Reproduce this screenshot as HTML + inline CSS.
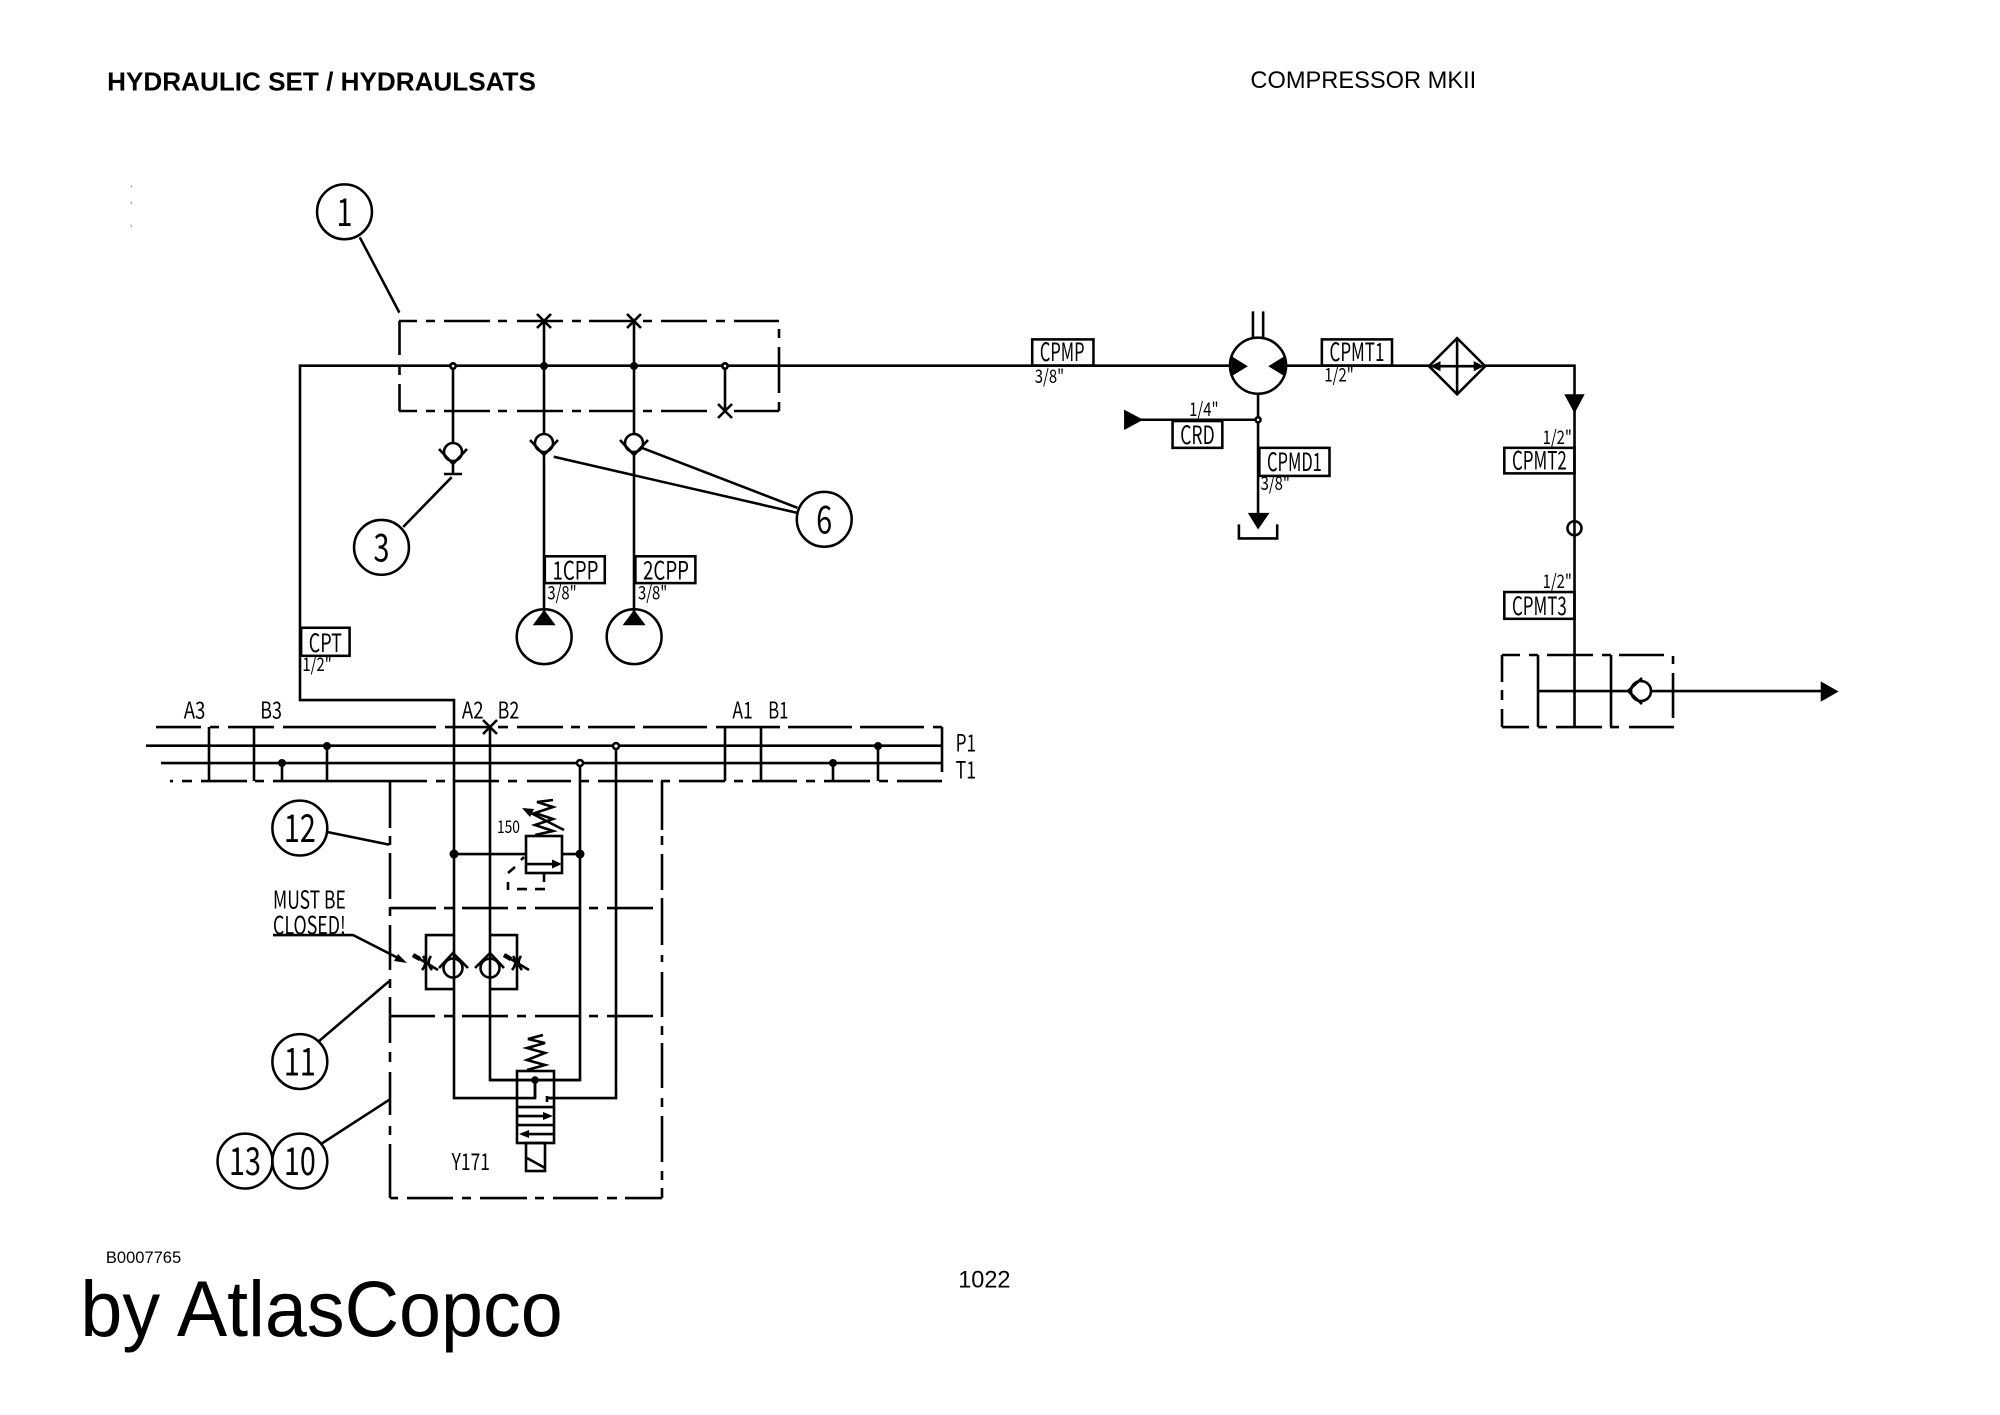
<!DOCTYPE html>
<html><head><meta charset="utf-8"><title>Hydraulic set</title>
<style>html,body{margin:0;padding:0;background:#fff}svg{display:block}
text{font-family:"Liberation Sans",sans-serif;fill:#000}
.l{fill:none;stroke:#000;stroke-width:2}
.r{fill:none;stroke:#000;stroke-width:2.6}
.b{fill:#000;stroke:none}
.w{fill:#fff;stroke:#000;stroke-width:2}
.c{font-size:30px;text-anchor:middle}
.n{font-size:20px}
.s{font-size:15px}
.c text,.n text,.s text{font-family:"Noto Sans CJK JP","Liberation Sans",sans-serif}
</style></head><body>
<svg xmlns="http://www.w3.org/2000/svg" width="2000" height="1415" viewBox="0 0 1567.5 1109">
<rect width="1567.5" height="1109" fill="#fff"/>
<text x="84" y="71" font-size="20.500" font-weight="700" textLength="336" lengthAdjust="spacingAndGlyphs">HYDRAULIC SET / HYDRAULSATS</text>
<text x="980" y="69" font-size="19" textLength="177" lengthAdjust="spacingAndGlyphs">COMPRESSOR MKII</text>
<text x="83" y="990" font-size="13" textLength="59" lengthAdjust="spacingAndGlyphs">B0007765</text>
<text x="63" y="1047" font-size="62" textLength="378" lengthAdjust="spacingAndGlyphs">by AtlasCopco</text>
<text x="751" y="1009" font-size="19" textLength="41" lengthAdjust="spacingAndGlyphs">1022</text>
<path d="M103 145v2M103 158v2M103 176v2" stroke="#aaa" stroke-width="1" fill="none"/>

<!-- real-pixel group -->
<g transform="scale(.78376)">
<path class="r" d="M1574.500 420V365.700H300V700H454V1098H535V1080"/>
<path class="r" d="M399 321H417M426 321H435M444 321H490M498 321H507M517 321H563M572 321H581M589 321H633M643 321H652M661 321H707M716 321H725M734 321H779
M399.500 321V355M399.500 365V375M399.500 384V411
M399 411H417M426 411H435M444 411H490M498 411H507M517 411H563M572 411H581M589 411H634M643 411H652M661 411H707M734 411H779
M779 329V338M779 347V393M779 402V411"/>
<path class="r" d="M544 321V434M634 321V434M725 366V411M453 366V442
M537 314l14 14M551 314l-14 14M627 314l14 14M641 314l-14 14M718 404l14 14M732 404l-14 14"/>
<g class="b"><circle cx="544" cy="366" r="4"/><circle cx="634" cy="366" r="4"/><circle cx="453" cy="366" r="4"/><circle cx="725" cy="366" r="4"/></g>
<g fill="#fff"><circle cx="453" cy="366" r="1.300"/><circle cx="725" cy="366" r="1.300"/></g>

<!-- check valves -->
<circle class="r" cx="453" cy="452" r="9"/><path class="r" d="M439 449l14 15 14-15M453 464V474M444 474H462"/>
<circle class="r" cx="544" cy="443" r="9"/><path class="r" d="M530 440l14 15 14-15M544 455V612"/>
<circle class="r" cx="634" cy="443" r="9"/><path class="r" d="M620 440l14 15 14-15M634 455V612"/>

<!-- bus -->
<path class="r" d="M146 745.700H942M161 763H942M942 727V772"/>
<path class="r" d="M156 727H201M210 727H219M228 727H274M283 727H436M445 727H490M498 727H508M517 727H563M571 727H580M588 727H635M643 727H707M716 727H780M788 727H852M860 727H924M933 727H942"/>
<path class="r" d="M170 781H173M182 781H192M201 781H247M255 781H264M273 781H427M436 781H445M454 781H499M508 781H517M527 781H571M580 781H589M598 781H653M661 781H670M679 781H725M734 781H743M752 781H797M806 781H815M824 781H870M879 781H888M897 781H942"/>
<path class="r" d="M209 727V781M254 727V781M725 727V781M761 727V781M282 763V781M327 746V781M833 763V781M878 746V781"/>
<path class="r" d="M490 727V1080H580V763M616 746V1098H547M483 720l14 14M497 720l-14 14"/>
<g class="b"><circle cx="282" cy="763" r="4"/><circle cx="327" cy="746" r="4"/><circle cx="833" cy="763" r="4"/><circle cx="878" cy="746" r="4"/>
<circle cx="580" cy="763" r="4.300"/><circle cx="616" cy="746" r="4.300"/><circle cx="454" cy="854" r="4.500"/><circle cx="580" cy="854" r="4.500"/><circle cx="535" cy="1080" r="3.800"/></g>
<g fill="#fff"><circle cx="580" cy="763" r="1.700"/><circle cx="616" cy="746" r="1.700"/></g>

<!-- lower box -->
<path class="r" d="M390 781V828M390 836V845M390 853V899M390 907V916M390 925V970M390 979V988M390 997V1043M390 1052V1062M390 1072V1115M390 1126V1135M390 1144V1198
M390 1198H398M407 1198H453M462 1198H471M480 1198H527M535 1198H544M553 1198H598M607 1198H617M625 1198H662
M662 1198V1188M662 1180V1171M662 1162V1116M662 1107V1098M662 1088V1043M662 1035V1026M662 1017V972M662 962V955M662 945V898M662 890V854M662 845V836M662 830V781
M390 908H436M444 908H453M462 908H508M517 908H526M535 908H581M589 908H598M607 908H653
M390 1016H435M444 1016H453M462 1016H508M517 1016H526M535 1016H581M589 1016H598M607 1016H653"/>

<!-- relief valve -->
<path class="r" d="M454 854H526M562 854H580"/>
<rect class="r" x="526" y="836" width="36" height="37"/>
<path class="r" d="M527 864H555"/><path class="b" d="M562 864l-10-4.500v9z"/>
<path class="r" d="M535 835l18-4-18-6 18-6-18-6 18-6-16-5 16-2"/>
<path class="r" d="M564 830L527 811"/><path class="b" d="M522 808l12 1-4 8z"/>
<path class="r" d="M524 857l-3 3M515 867l-7 6M508 882v8M517 889h10M535 889h10M544 873v9"/>

<!-- must be closed -->
<path class="r" d="M273 935H353L400 959"/><path class="b" d="M407 963l-13-2 4-7z"/>

<!-- check with throttles -->
<path class="r" d="M453 935H426V989H453M490 935H517V989H490"/>
<circle class="r" cx="453" cy="968" r="9.500"/><path class="r" d="M439 968l14-15 15 15"/>
<circle class="r" cx="490" cy="968" r="9.500"/><path class="r" d="M475 968l15-15 14 15"/>
<path class="r" d="M413 955l25 15M423 956q5 7-1 14M431 956q-5 7 1 14"/><path stroke="#000" stroke-width="4.500" d="M413 955l7 4"/>
<path class="r" d="M504 955l25 15M513 956q5 7-1 14M521 956q-5 7 1 14"/><path stroke="#000" stroke-width="4.500" d="M504 955l7 4"/>

<!-- valve Y171 -->
<path class="r" d="M490 1080H580"/>
<rect class="r" x="517" y="1071" width="37" height="72"/>
<path class="r" d="M518 1107H553M518 1125H553M518 1116H548M522 1134H553M535 1080V1098M547 1096V1102M547 1098H553"/>
<path class="b" d="M553 1116l-10-4v8zM519 1134l10-4v8z"/>
<path class="r" d="M527 1070l18-5-18-5 18-7-18-5 18-5-17-4 15-4"/>
<rect class="r" x="526" y="1143" width="19" height="28"/><path class="r" d="M527 1158L545 1168"/>

<!-- right block -->
<path class="r" d="M1574.500 420V727M1502 655H1520M1529 655H1538M1547 655H1593M1602 655H1611M1619 655H1664M1502 655V682M1502 690V700M1502 709V727M1673 656V664M1673 673V718M1502 727H1529M1538 727H1547M1556 727H1602M1610 727H1619M1629 727H1674M1538 655V727M1611 655V727M1538 691H1630M1651 691H1822"/>
<circle class="r" cx="1641" cy="691" r="10"/><path class="r" d="M1642 678L1628 691 1642 704"/>
</g>

<!-- balloons -->
<g class="l"><circle cx="270" cy="166" r="21.500"/><circle cx="299" cy="429" r="21.500"/><circle cx="646" cy="407" r="21.500"/><circle cx="235" cy="649" r="21.500"/><circle cx="235" cy="832" r="21.500"/><circle cx="192" cy="910" r="21.500"/><circle cx="235" cy="910" r="21.500"/>
<path d="M282 186L313 245M354 374L316 413M434 358L625 402M503 351L625 398M256 652L305 662M250 816L305 769M251 897L305 862"/></g>
<g class="c">
<text transform="translate(270 177) scale(.75 1)">1</text>
<text transform="translate(299 440) scale(.75 1)">3</text>
<text transform="translate(646 418) scale(.75 1)">6</text>
<text transform="translate(235 660) scale(.75 1)">12</text>
<text transform="translate(235 843) scale(.75 1)">11</text>
<text transform="translate(192 921) scale(.75 1)">13</text>
<text transform="translate(235 921) scale(.75 1)">10</text>
</g>

<!-- pumps -->
<circle class="l" cx="426.500" cy="499" r="21.500"/><path class="b" d="M426.500 478l9 12h-18z"/>
<circle class="l" cx="497" cy="499" r="21.500"/><path class="b" d="M497 478l9 12h-18z"/>

<!-- label boxes -->
<g class="l"><rect x="427" y="436" width="47" height="21"/><rect x="498" y="436" width="47" height="21"/><rect x="236" y="492" width="38" height="22"/>
<rect x="809" y="266" width="48" height="20.500"/><rect x="1036" y="266" width="55" height="20.500"/><rect x="919" y="330" width="39" height="21"/><rect x="987" y="351" width="55" height="22"/><rect x="1179" y="351" width="55" height="20"/><rect x="1179" y="464" width="55" height="21"/></g>
<g class="n">
<text x="433" y="454" textLength="36" lengthAdjust="spacingAndGlyphs">1CPP</text>
<text x="504" y="454" textLength="36" lengthAdjust="spacingAndGlyphs">2CPP</text>
<text x="242" y="511" textLength="26" lengthAdjust="spacingAndGlyphs">CPT</text>
<text x="815" y="283" textLength="35" lengthAdjust="spacingAndGlyphs">CPMP</text>
<text x="1042" y="283" textLength="43" lengthAdjust="spacingAndGlyphs">CPMT1</text>
<text x="925" y="348" textLength="27" lengthAdjust="spacingAndGlyphs">CRD</text>
<text x="993" y="369" textLength="43" lengthAdjust="spacingAndGlyphs">CPMD1</text>
<text x="1185" y="368" textLength="43" lengthAdjust="spacingAndGlyphs">CPMT2</text>
<text x="1185" y="482" textLength="43" lengthAdjust="spacingAndGlyphs">CPMT3</text>
<text x="144" y="563" font-size="18" textLength="17" lengthAdjust="spacingAndGlyphs">A3</text>
<text x="204" y="563" font-size="18" textLength="17" lengthAdjust="spacingAndGlyphs">B3</text>
<text x="362" y="563" font-size="18" textLength="17" lengthAdjust="spacingAndGlyphs">A2</text>
<text x="390" y="563" font-size="18" textLength="17" lengthAdjust="spacingAndGlyphs">B2</text>
<text x="574" y="563" font-size="18" textLength="16" lengthAdjust="spacingAndGlyphs">A1</text>
<text x="602" y="563" font-size="18" textLength="16" lengthAdjust="spacingAndGlyphs">B1</text>
<text x="749" y="589" font-size="18.500" textLength="16" lengthAdjust="spacingAndGlyphs">P1</text>
<text x="749" y="610" font-size="18.500" textLength="16" lengthAdjust="spacingAndGlyphs">T1</text>
<text x="214" y="712" font-size="19" textLength="57" lengthAdjust="spacingAndGlyphs">MUST BE</text>
<text x="214" y="732" font-size="19" textLength="57" lengthAdjust="spacingAndGlyphs">CLOSED!</text>
<text x="354" y="917" font-size="18" textLength="30" lengthAdjust="spacingAndGlyphs">Y171</text>
</g>
<g class="s">
<text x="429" y="470" textLength="23" lengthAdjust="spacingAndGlyphs">3/8"</text>
<text x="500" y="470" textLength="23" lengthAdjust="spacingAndGlyphs">3/8"</text>
<text x="237" y="526" textLength="23" lengthAdjust="spacingAndGlyphs">1/2"</text>
<text x="811" y="300" textLength="23" lengthAdjust="spacingAndGlyphs">3/8"</text>
<text x="1038" y="299" textLength="23" lengthAdjust="spacingAndGlyphs">1/2"</text>
<text x="932" y="326" textLength="23" lengthAdjust="spacingAndGlyphs">1/4"</text>
<text x="988" y="384" textLength="23" lengthAdjust="spacingAndGlyphs">3/8"</text>
<text x="1209" y="348" textLength="23" lengthAdjust="spacingAndGlyphs">1/2"</text>
<text x="1209" y="461" textLength="23" lengthAdjust="spacingAndGlyphs">1/2"</text>
<text x="389.500" y="653" font-size="13.500" textLength="18" lengthAdjust="spacingAndGlyphs">150</text>
</g>

<!-- motor -->
<path class="l" d="M982 244V266M990 244V266"/>
<circle class="w" cx="986" cy="286.600" r="22"/>
<path class="b" d="M965 279V295L978 287ZM1007 279V295L994 287Z"/>
<path class="l" d="M986 309V403M893 329H986"/>
<path class="b" d="M881 321V337L896 329ZM978 402H995L986 415Z"/><circle class="b" cx="986" cy="329" r="3"/><circle cx="986" cy="329" r="1" fill="#fff"/>
<path class="l" d="M971 411V422H1001V411"/>

<!-- cooler -->
<path class="w" d="M1142 265L1164 287 1142 309 1120 287Z"/>
<path class="l" d="M1142 265V309M1122 287H1162"/><path class="b" d="M1121 287l8-4v8zM1163 287l-8-4v8z"/>
<path class="b" d="M1226 309H1242L1234 324Z"/>
<circle class="w" cx="1234" cy="414" r="5.500"/><path class="l" d="M1234 408V420"/>
<path class="b" d="M1427 534V550L1441 542Z"/>
</svg>
</body></html>
